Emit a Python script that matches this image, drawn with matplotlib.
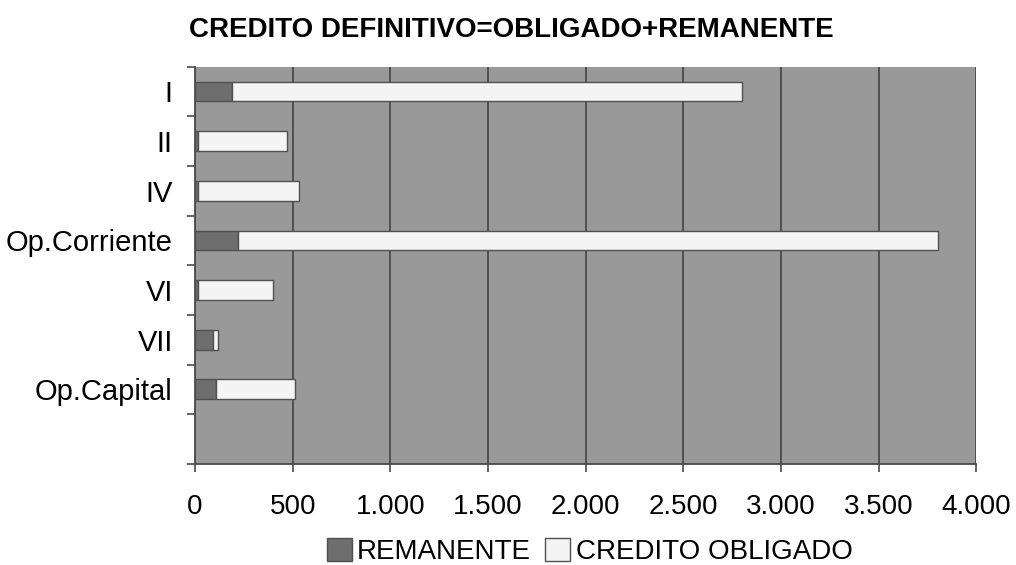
import numpy as np
import matplotlib.pyplot as plt
from matplotlib.ticker import FuncFormatter

# Datos (en miles)
categorias = ['I', 'II', 'IV', 'Op.Corriente', 'VI', 'VII', 'Op.Capital']
remanente = [191, 15, 16, 222, 13, 94, 107]
obligado = [2609, 457, 516, 3582, 385, 22, 407]

plt.rcParams['font.family'] = ['Liberation Sans', 'DejaVu Sans']

fig = plt.figure(figsize=(10.16, 5.65), dpi=100)
ax = fig.add_axes([0.192, 0.179, 0.769, 0.703])
ax.set_facecolor('#999999')

pos = np.arange(len(categorias)) + 0.5
ax.barh(pos, remanente, height=0.4, color='#6e6e6e', edgecolor='#505050',
        linewidth=1, label='REMANENTE', zorder=3)
ax.barh(pos, obligado, left=remanente, height=0.4, color='#f4f4f4',
        edgecolor='#505050', linewidth=1, label='CREDITO OBLIGADO', zorder=3)

ax.set_xlim(0, 4000)
ax.set_ylim(len(categorias) + 1, 0)
ax.set_xticks(np.arange(0, 4001, 500))
ax.xaxis.set_major_formatter(FuncFormatter(lambda v, p: f'{int(v):,}'.replace(',', '.')))
ax.grid(axis='x', color='#4a4a4a', linewidth=1.3, zorder=1)
ax.set_axisbelow(True)

# ticks del eje y en los limites de cada categoria, etiquetas al centro
ax.set_yticks(np.arange(0, len(categorias) + 2))
ax.set_yticklabels([])
ax.set_yticks(pos, minor=True)
ax.set_yticklabels(categorias, minor=True)
ax.tick_params(axis='y', which='minor', length=0, pad=16, labelsize=21)
ax.tick_params(axis='y', which='major', length=6, width=1.2, color='#4a4a4a')
ax.tick_params(axis='x', length=6, width=1.2, color='#4a4a4a', labelsize=20, pad=16)

for s in ['top', 'right']:
    ax.spines[s].set_visible(False)
for s in ['left', 'bottom']:
    ax.spines[s].set_color('#4a4a4a')
    ax.spines[s].set_linewidth(1.3)

fig.suptitle('CREDITO DEFINITIVO=OBLIGADO+REMANENTE', x=0.503, y=0.97,
             fontsize=20, fontweight='bold')

ax.legend(loc='upper center', bbox_to_anchor=(0.505, -0.172), ncol=2, frameon=False,
          fontsize=20, handlelength=0.9, handleheight=0.9, handletextpad=0.2,
          columnspacing=0.5, borderaxespad=0, borderpad=0.2)

plt.savefig('out.png', dpi=100)
